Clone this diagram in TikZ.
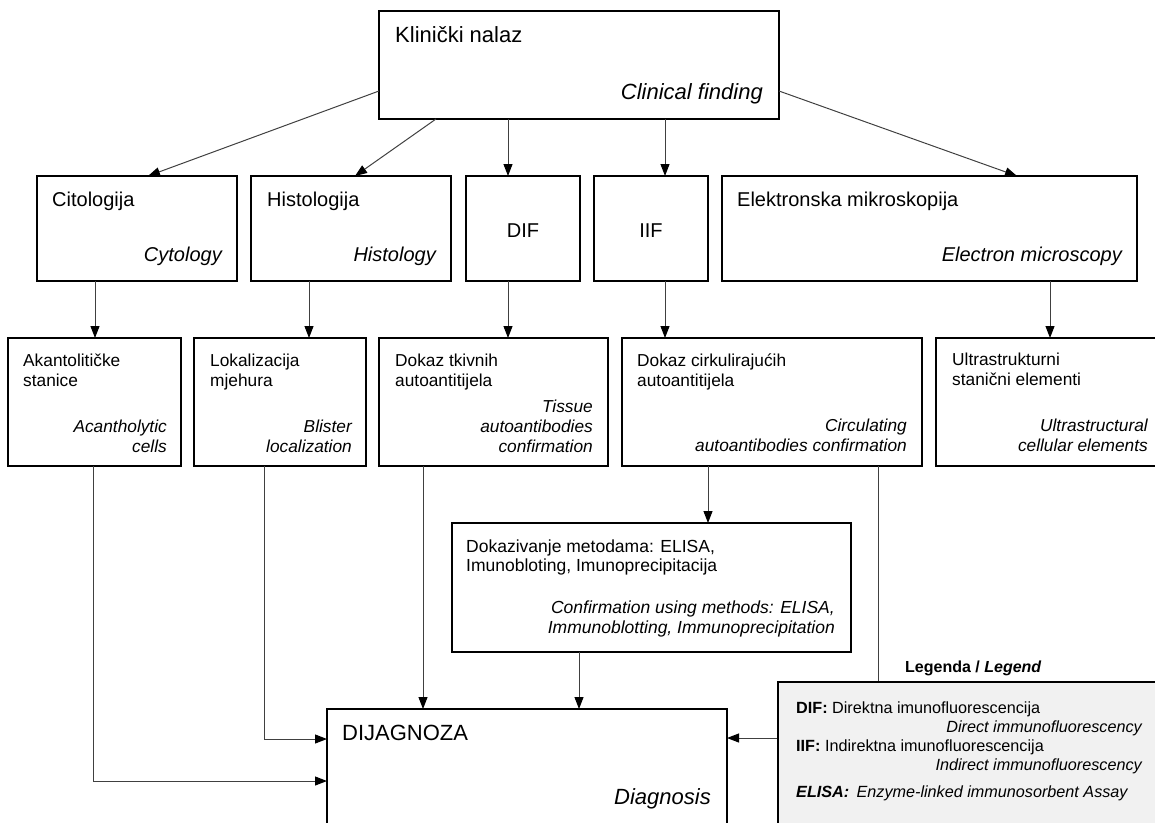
\documentclass[tikz,border=0pt]{standalone}
\usepackage{fontspec}
\setmainfont{Liberation Sans}
\usetikzlibrary{arrows.meta}
\definecolor{leggray}{RGB}{241,241,241}
\tikzset{
  box/.style={draw=black, line width=1.3pt, inner sep=0pt, outer sep=0pt, fill=white},
  legbox/.style={draw=black, line width=1.3pt, inner sep=0pt, outer sep=0pt, fill=leggray},
  conn/.style={draw=black!75, line width=1pt, -{Triangle[length=12pt,width=9pt,black]}},
  tbig/.style={inner sep=0pt, font=\fontsize{22}{26}\selectfont},
  tmid/.style={inner sep=0pt, font=\fontsize{20}{24}\selectfont},
  tsml/.style={inner sep=0pt, font=\fontsize{17.3}{20}\selectfont},
  tdok/.style={inner sep=0pt, font=\fontsize{17.5}{20}\selectfont},
  tleg/.style={inner sep=0pt, font=\fontsize{16.2}{19}\selectfont},
  tlegh/.style={inner sep=0pt, font=\fontsize{16}{19}\selectfont\bfseries},
  tl/.style={anchor=base west},
  tr/.style={anchor=base east},
}
\begin{document}
\begin{tikzpicture}[x=1pt,y=-1pt]
\useasboundingbox (0,0) rectangle (1155,822);
\clip (0,0) rectangle (1155,822);

% boxes
\node[box, minimum width=400pt, minimum height=108pt] (top) at (579,65) {};
\node[box, minimum width=200pt, minimum height=105pt] (cit) at (137,228.5) {};
\node[box, minimum width=200pt, minimum height=105pt] (his) at (351,228.5) {};
\node[box, minimum width=114pt, minimum height=105pt] (dif) at (523,228.5) {};
\node[box, minimum width=114pt, minimum height=105pt] (iif) at (651,228.5) {};
\node[box, minimum width=415pt, minimum height=105pt] (ele) at (929.5,228.5) {};
\node[box, minimum width=173pt, minimum height=128pt] (aka) at (94.5,402) {};
\node[box, minimum width=172pt, minimum height=128pt] (lok) at (280,402) {};
\node[box, minimum width=229pt, minimum height=128pt] (tki) at (493.5,402) {};
\node[box, minimum width=300pt, minimum height=128pt] (cir) at (772,402) {};
\node[box, minimum width=227pt, minimum height=128pt] (ult) at (1049.5,402) {};
\node[box, minimum width=399pt, minimum height=129pt] (dok) at (651.5,587.5) {};
\node[box, minimum width=400pt, minimum height=191pt] (dia) at (527,804.5) {};

% x positions of connectors
\coordinate (x1) at (95,0);
\coordinate (x2) at (309,0);
\coordinate (x3) at (508,0);
\coordinate (x4) at (665,0);
\coordinate (x5) at (1050,0);
\coordinate (x6) at (423,0);
\coordinate (x7) at (708,0);
\coordinate (x8) at (579,0);
\coordinate (k1) at (93,781);
\coordinate (k2) at (264,739);
\coordinate (k3) at (878,738);

% top to row 2
\draw[conn] ([yshift=-26pt]top.west) -- ([xshift=11pt]cit.north);
\draw[conn] ([xshift=-143pt]top.south) -- ([xshift=4pt]his.north);
\draw[conn] (top.south -| x3) -- (dif.north -| x3);
\draw[conn] (top.south -| x4) -- (iif.north -| x4);
\draw[conn] ([yshift=-26pt]top.east) -- ([xshift=87.5pt]ele.north);

% row 2 to row 3
\draw[conn] (cit.south -| x1) -- (aka.north -| x1);
\draw[conn] (his.south -| x2) -- (lok.north -| x2);
\draw[conn] (dif.south -| x3) -- (tki.north -| x3);
\draw[conn] (iif.south -| x4) -- (cir.north -| x4);
\draw[conn] (ele.south -| x5) -- (ult.north -| x5);

% to diagnosis
\draw[conn] (aka.south -| k1) -- (k1) -- (dia.west |- k1);
\draw[conn] (lok.south -| k2) -- (k2) -- (dia.west |- k2);
\draw[conn] (tki.south -| x6) -- (dia.north -| x6);
\draw[conn] (cir.south -| x7) -- (dok.north -| x7);
\draw[conn] (dok.south -| x8) -- (dia.north -| x8);
\draw[conn] (cir.south -| k3) -- (k3) -- (dia.east |- k3);

% legend
\node[legbox, minimum width=422pt, minimum height=218pt] (leg) at (989,791) {};

% texts
\node[tbig, tl] (t1a) at (395,42) {Klinički nalaz};
\node[tbig, tr] (t1b) at (763,99) {\itshape Clinical finding};

\node[tmid, tl] (t2a) at (52,206) {Citologija};
\node[tmid, tr] (t2b) at (222,261) {\itshape Cytology};
\node[tmid, tl] (t3a) at (267,206) {Histologija};
\node[tmid, tr] (t3b) at (436,261) {\itshape Histology};
\node[tmid, anchor=base] (t4) at (523,237) {DIF};
\node[tmid, anchor=base] (t5) at (651,237) {IIF};
\node[tmid, tl] (t6a) at (737,206) {Elektronska mikroskopija};
\node[tmid, tr] (t6b) at (1122,261) {\itshape Electron microscopy};

\node[tsml, tl] (a1) at (23,366) {Akantolitičke};
\node[tsml, tl] (a2) at (23,386) {stanice};
\node[tsml, tr] (a3) at (167,432) {\itshape Acantholytic};
\node[tsml, tr] (a4) at (167,452) {\itshape cells};

\node[tsml, tl] (b1) at (210,366) {Lokalizacija};
\node[tsml, tl] (b2) at (210,386) {mjehura};
\node[tsml, tr] (b3) at (352,432) {\itshape Blister};
\node[tsml, tr] (b4) at (352,452) {\itshape localization};

\node[tsml, tl] (c1) at (395,366) {Dokaz tkivnih};
\node[tsml, tl] (c2) at (395,386) {autoantitijela};
\node[tsml, tr] (c3) at (593,412) {\itshape Tissue};
\node[tsml, tr] (c4) at (593,432) {\itshape autoantibodies};
\node[tsml, tr] (c5) at (593,452) {\itshape confirmation};

\node[tsml, tl] (d1) at (637,366) {Dokaz cirkulirajućih};
\node[tsml, tl] (d2) at (637,386) {autoantitijela};
\node[tsml, tr] (d3) at (907,431) {\itshape Circulating};
\node[tsml, tr] (d4) at (907,451) {\itshape autoantibodies confirmation};

\node[tsml, tl] (e1) at (952,365) {Ultrastrukturni};
\node[tsml, tl] (e2) at (952,385) {stanični elementi};
\node[tsml, tr] (e3) at (1148,431) {\itshape Ultrastructural};
\node[tsml, tr] (e4) at (1148,451) {\itshape cellular elements};

\node[tdok, tl] (f1) at (466,552) {Dokazivanje metodama: ELISA,};
\node[tdok, tl] (f2) at (466,571) {Imunobloting, Imunoprecipitacija};
\node[tdok, tr] (f3) at (835,613) {\itshape Confirmation using methods: ELISA,};
\node[tdok, tr] (f4) at (835,633) {\itshape Immunoblotting, Immunoprecipitation};

\node[tbig, tl] (g1) at (342,740) {DIJAGNOZA};
\node[tbig, tr] (g2) at (711,804) {\itshape Diagnosis};

\node[tlegh, tl] (h0) at (905,672) {Legenda / \itshape Legend};
\node[tleg, tl] (h1) at (796,713) {\textbf{DIF:} Direktna imunofluorescencija};
\node[tleg, tr] (h2) at (1142,732) {\itshape Direct immunofluorescency};
\node[tleg, tl] (h3) at (796,751) {\textbf{IIF:} Indirektna imunofluorescencija};
\node[tleg, tr] (h4) at (1142,770) {\itshape Indirect immunofluorescency};
\node[tleg, tl] (h5) at (796,797) {\itshape\bfseries ELISA:\hspace{0.45em}\mdseries Enzyme-linked immunosorbent Assay};
\end{tikzpicture}
\end{document}
